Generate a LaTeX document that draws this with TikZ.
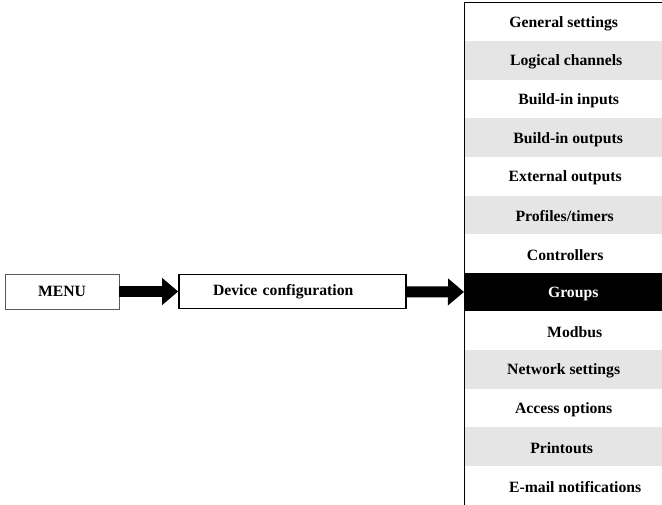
\documentclass[tikz,border=0pt]{standalone}
\usepackage{fontspec}
\setmainfont{Liberation Serif}
\usepackage{tikz}
\usetikzlibrary{arrows.meta}
\usetikzlibrary{positioning}
\definecolor{rowgray}{gray}{0.9}
\tikzset{menu box/.style={draw,
                          rectangle,
                          inner sep=0pt}}
\tikzset{menu row/.style={rectangle,
                          inner sep=0pt,
                          minimum width=198pt,
                          minimum height=38.6pt,
                          anchor=north west}}
\tikzset{block arrow/.style={draw,
                             line width=11pt,
                             -{Triangle[length=16pt,width=26pt]}}}

\begin{document}
\begin{tikzpicture}
      [
      x=1pt,y=-1pt,
      font=\bfseries\fontsize{15.7}{18}\selectfont,
      ]

      \useasboundingbox (0,0) rectangle (662,505);

      % boxes on the left
      \node [menu box,draw=black!65,line width=0.8pt,minimum width=114pt,
      minimum height=35pt] (menu) at (62,291.5) {MENU};

      \node [menu box,line width=1.6pt,text width=159pt,inner xsep=34pt,
      minimum height=34pt,align=left] (devcfg) at (292.5,291.5) {Device configuration};

      % submenu rows
      \foreach \i/\t/\f/\c/\s in
      {
      0/General settings/white/black/0.5,
      1/Logical channels/rowgray/black/3,
      2/Build-in inputs/white/black/5.5,
      3/Build-in outputs/rowgray/black/5,
      4/External outputs/white/black/2,
      5/{Profiles/timers}/rowgray/black/1.5,
      6/Controllers/white/black/2,
      7/Groups/black/white/10,
      8/Modbus/white/black/11.5,
      9/Network settings/rowgray/black/0.5,
      10/Access options/white/black/0.5,
      11/Printouts/rowgray/black/-1.5,
      12/E-mail notifications/white/black/12
      }
      {
      \node [menu row,fill=\f,label={[xshift=\s pt,yshift=-1.5pt,text=\c]center:\t}] (row\i) at (464,2.5+\i*38.6) {};
      }

      % frame of the column
      \draw [line width=0.8pt] (row0.north east) -- (row0.north west) -- (row12.south west);

      % arrows
      \draw [block arrow] (menu) -- (devcfg);
      \draw [block arrow] (devcfg) -- (row7);

\end{tikzpicture}
\end{document}
